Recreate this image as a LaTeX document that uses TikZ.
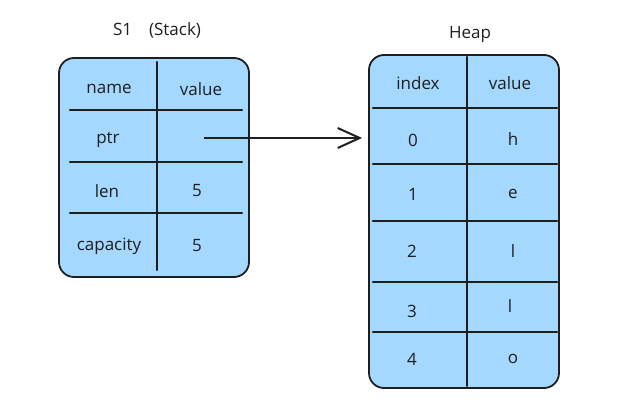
\documentclass[tikz,border=0pt]{standalone}
\usepackage{fontspec}
\setmainfont{Open Sans}
\usetikzlibrary{arrows.meta}
\definecolor{cellblue}{HTML}{A5D8FF}
\definecolor{inkdark}{HTML}{1E1E1E}
\tikzset{
    tablebox/.style={draw, fill=cellblue, rounded corners=15pt, inner sep=0pt, line width=1.8pt},
    divider/.style={line width=2.4pt, line cap=round},
}
\begin{document}
\begin{tikzpicture}[x=1pt, y=-1pt, color=inkdark, font=\fontsize{17}{20}\selectfont]
    \useasboundingbox (0,0) rectangle (635,419);
    % Stack table (s1)
    \node (S_title) at (157, 30) {S1\quad(Stack)};
    \node[tablebox, minimum width=190pt, minimum height=219pt] (stack) at (154, 167.5) {};
    \draw[divider] (157, 62) -- (157, 270);
    \draw[divider] (70, 110) -- (242, 110);
    \draw[divider] (70, 162) -- (242, 162);
    \draw[divider] (70, 213) -- (242, 213);
    \node (S_name) at (109, 89) {name};
    \node (S_value) at (201, 89) {value};
    \node (S_ptr) at (108, 140) {ptr};
    \coordinate (S_ptrval) at (204, 138);
    \node (S_len) at (107, 191) {len};
    \node (S_lenval) at (197, 191) {5};
    \node (S_cap) at (109, 246) {capacity};
    \node (S_capval) at (197, 246) {5};
    % Heap table
    \node (H_title) at (470, 34) {Heap};
    \node[tablebox, minimum width=190pt, minimum height=333pt] (heap) at (464, 221.5) {};
    \draw[divider] (467, 57) -- (467, 386);
    \draw[divider] (373, 108) -- (557, 108);
    \draw[divider] (373, 164) -- (557, 164);
    \draw[divider] (373, 221) -- (557, 221);
    \draw[divider] (373, 282) -- (557, 282);
    \draw[divider] (373, 332) -- (557, 332);
    \node (H_index) at (418, 83) {index};
    \node (H_value) at (510, 83) {value};
    \node (H_i0) at (413, 140) {0};
    \node (H_v0) at (513, 139) {h};
    \node (H_i1) at (413, 194) {1};
    \node (H_v1) at (513, 194) {e};
    \node (H_i2) at (412, 251) {2};
    \node (H_v2) at (513, 251) {l};
    \node (H_i3) at (412, 311) {3};
    \node (H_v3) at (510, 306) {l};
    \node (H_i4) at (412, 359) {4};
    \node (H_v4) at (513, 359) {o};
    % pointer
    \draw[-{Straight Barb[length=22pt, width=20pt]}, line width=2pt, shorten >=6pt] (S_ptrval) -- (heap.west |- S_ptrval);
\end{tikzpicture}
\end{document}
